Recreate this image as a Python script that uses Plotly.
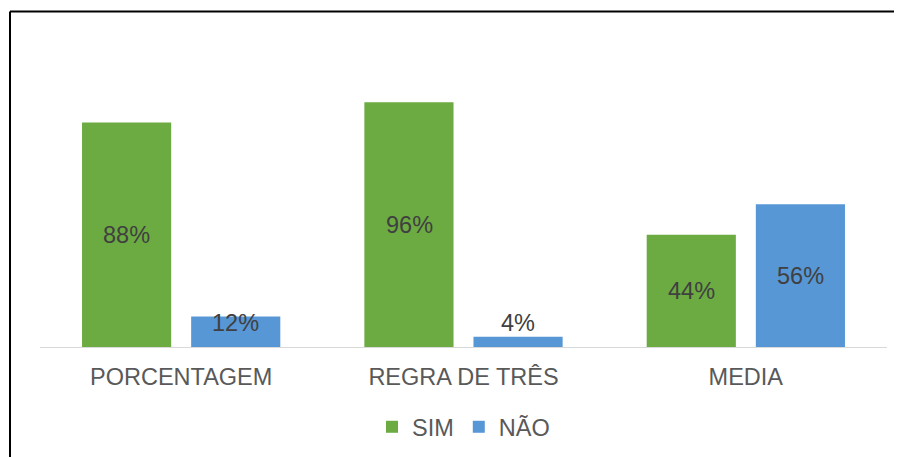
import plotly.graph_objects as go

categories = ["PORCENTAGEM", "REGRA DE TRÊS", "MEDIA"]
sim_values = [88, 96, 44]
nao_values = [12, 4, 56]
series_names = ["SIM", "NÃO"]

colors = {"SIM": "#6cab42", "NÃO": "#5797d6"}
FONT = "Liberation Sans, Arial"

fig = go.Figure()
for name, vals in zip(series_names, [sim_values, nao_values]):
    fig.add_trace(go.Bar(
        name=name, x=categories, y=vals,
        marker=dict(color=colors[name], line=dict(width=0)),
    ))

# data labels (Excel-style: centred, with a minimum height for short bars)
annotations = []
for i, name in enumerate(series_names):
    vals = [sim_values, nao_values][i]
    for j, v in enumerate(vals):
        annotations.append(dict(
            x=categories[j], y=max(v / 2, 9.4), xref="x", yref="y",
            text=f"{v}%", showarrow=False,
            xshift=(-54.5 if i == 0 else 54.5),
            font=dict(family=FONT, size=23.5, color="#404040"),
        ))

# page body has an 8px margin, so the figure is drawn 8px smaller
W, H = 894, 449
ml, mr, mt, mb = 32, 15, 32, 110
pw = W - ml - mr
ph = H - mt - mb

fig.update_layout(
    width=W, height=H,
    margin=dict(l=ml, r=mr, t=mt, b=mb, autoexpand=False),
    paper_bgcolor="white", plot_bgcolor="white",
    barmode="group", bargap=0.227, bargroupgap=0.183,
    annotations=annotations,
    showlegend=True,
    legend=dict(orientation="h", x=0.5, xanchor="center",
                yref="container", y=30 / H, yanchor="middle",
                font=dict(family=FONT, size=23.5, color="#595959"),
                itemwidth=30, tracegroupgap=0),
    xaxis=dict(showline=True, linecolor="#d9d9d9", linewidth=1, ticks="",
               tickfont=dict(family=FONT, size=23.5, color="#595959"),
               showgrid=False, ticklabelstandoff=9, automargin=False),
    yaxis=dict(range=[0, 120.4], visible=False, showgrid=False, automargin=False),
    shapes=[
        dict(type="line", xref="paper", yref="paper",
             x0=(2 - ml) / pw, x1=(W + 5 - ml) / pw,
             y0=(H - mb - 3.5) / ph, y1=(H - mb - 3.5) / ph,
             line=dict(color="#000000", width=2)),
        dict(type="line", xref="paper", yref="paper",
             x0=(2 - ml) / pw, x1=(2 - ml) / pw,
             y0=(H - mb - 3.5) / ph, y1=-(mb + 5) / ph,
             line=dict(color="#000000", width=2)),
    ],
)

fig.write_html("out.html")
